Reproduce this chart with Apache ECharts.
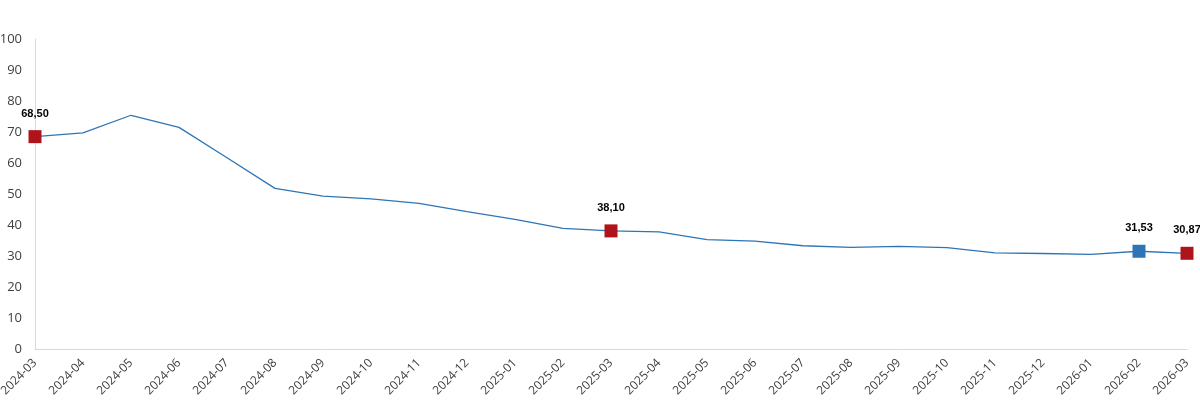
<!DOCTYPE html>
<html>
<head>
<meta charset="utf-8">
<script src="https://cdn.jsdelivr.net/npm/echarts@6/dist/echarts.min.js"></script>
<style>
  html, body { margin: 0; padding: 0; background: #fff; }
  #chart { width: 1200px; height: 403px; }
</style>
</head>
<body>
<div id="chart"></div>
<script>
// aylar
var months = ["2024-03","2024-04","2024-05","2024-06","2024-07","2024-08","2024-09","2024-10","2024-11","2024-12",
  "2025-01","2025-02","2025-03","2025-04","2025-05","2025-06","2025-07","2025-08","2025-09","2025-10",
  "2025-11","2025-12","2026-01","2026-02","2026-03"];
var values = [68.50, 69.7, 75.4, 71.5, 61.7, 51.8, 49.3, 48.4, 47.0, 44.3,
  41.8, 38.9, 38.10, 37.8, 35.3, 34.8, 33.3, 32.8, 33.1, 32.7,
  31.0, 30.8, 30.5, 31.53, 30.87];
// işaretli noktalar
var redPoints = ["2024-03", "2025-03", "2026-03"];
var bluePoints = ["2026-02"];

var seriesData = values.map(function (v, i) {
  var m = months[i];
  var item = { value: v };
  if (redPoints.indexOf(m) !== -1 || bluePoints.indexOf(m) !== -1) {
    item.symbolSize = 13;
    item.itemStyle = { color: redPoints.indexOf(m) !== -1 ? "#b0141b" : "#2e75b6" };
    item.label = { show: true };
  }
  return item;
});

var myChart = echarts.init(document.getElementById("chart"));
var option = {
  animation: false,
  grid: { left: 35, right: 13, top: 39, bottom: 54, outerBoundsMode: "none" },
  xAxis: {
    type: "category",
    boundaryGap: false,
    data: months,
    axisLine: { lineStyle: { color: "#d9d9d9" } },
    axisTick: { show: false },
    axisLabel: {
      rotate: 45,
      interval: 0,
      color: "#404040",
      fontFamily: "Open Sans",
      fontSize: 12,
      margin: 12
    }
  },
  yAxis: {
    type: "value",
    min: 0,
    max: 100,
    interval: 10,
    axisLine: { show: true, lineStyle: { color: "#d9d9d9" } },
    axisTick: { show: false },
    splitLine: { show: false },
    axisLabel: {
      color: "#404040",
      fontFamily: "Open Sans",
      fontSize: 13,
      margin: 13
    }
  },
  series: [
    {
      type: "line",
      data: seriesData,
      symbol: "rect",
      symbolSize: 0,
      showSymbol: true,
      lineStyle: { color: "#2e75b6", width: 1.3 },
      itemStyle: { color: "#2e75b6" },
      label: {
        show: false,
        position: "top",
        distance: 11,
        color: "#000",
        fontWeight: "bold",
        fontFamily: "Liberation Sans",
        fontSize: 11,
        formatter: function (p) { return p.value.toFixed(2).replace(".", ","); }
      }
    }
  ]
};
myChart.setOption(option);
</script>
</body>
</html>
